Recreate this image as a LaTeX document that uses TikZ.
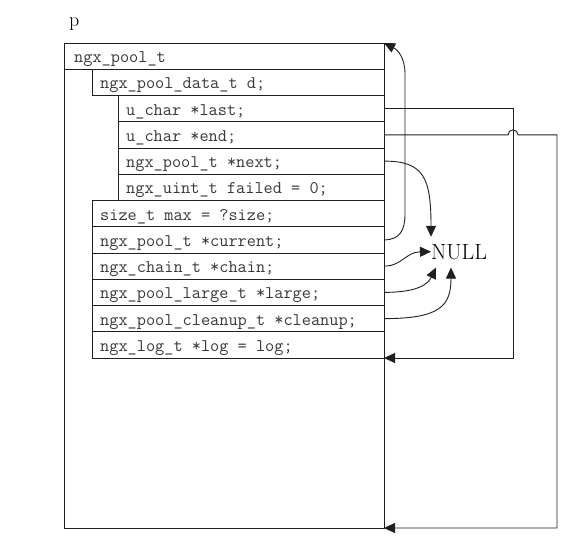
\documentclass[tikz,border=0pt]{standalone}
\usepackage{fontspec}
\usetikzlibrary{arrows.meta,calc}
\definecolor{ink}{rgb}{0.12,0.12,0.12}
\definecolor{txt}{rgb}{0.22,0.22,0.22}
\begin{document}
\begin{tikzpicture}[x=1pt,y=-1pt,
  rowbox/.style={draw=ink, line width=1pt, rectangle, inner sep=0pt, outer sep=0pt, anchor=north west, minimum height=26.25pt},
  code/.style={anchor=base west, inner sep=0pt, text=txt, font=\fontsize{17.8}{20}\ttfamily},
  conn/.style={draw=ink, line width=0.9pt},
  tip/.style={-{Triangle[length=11pt,width=10pt]}}]
\useasboundingbox[fill=white] (0,0) rectangle (581,541);
% outer pool block
\node[draw=ink, line width=1pt, anchor=north west, minimum width=320pt, minimum height=485pt, inner sep=0pt, outer sep=0pt] (pool) at (64,43) {};
\node[anchor=base west, inner sep=0pt, font=\fontsize{20}{22}\selectfont] (p) at (69,26) {p};
% rows
\node[rowbox, minimum width=320pt] (r1) at (64,43) {};
\node[code] (t1) at ($(r1.north west)+(10,19.5)$) {ngx\_pool\_t};
\node[rowbox, minimum width=292pt] (r2) at (92,69.25) {};
\node[code] (t2) at ($(r2.north west)+(8,19.5)$) {ngx\_pool\_data\_t d;};
\node[rowbox, minimum width=266pt] (r3) at (118,95.5) {};
\node[code] (t3) at ($(r3.north west)+(8,19.5)$) {u\_char *last;};
\node[rowbox, minimum width=266pt] (r4) at (118,121.75) {};
\node[code] (t4) at ($(r4.north west)+(8,19.5)$) {u\_char *end;};
\node[rowbox, minimum width=266pt] (r5) at (118,148) {};
\node[code] (t5) at ($(r5.north west)+(8,19.5)$) {ngx\_pool\_t *next;};
\node[rowbox, minimum width=266pt] (r6) at (118,174.25) {};
\node[code] (t6) at ($(r6.north west)+(8,19.5)$) {ngx\_uint\_t failed = 0;};
\node[rowbox, minimum width=292pt] (r7) at (92,200.5) {};
\node[code] (t7) at ($(r7.north west)+(8,19.5)$) {size\_t max = ?size;};
\node[rowbox, minimum width=292pt] (r8) at (92,226.75) {};
\node[code] (t8) at ($(r8.north west)+(8,19.5)$) {ngx\_pool\_t *current;};
\node[rowbox, minimum width=292pt] (r9) at (92,253) {};
\node[code] (t9) at ($(r9.north west)+(8,19.5)$) {ngx\_chain\_t *chain;};
\node[rowbox, minimum width=292pt] (r10) at (92,279.25) {};
\node[code] (t10) at ($(r10.north west)+(8,19.5)$) {ngx\_pool\_large\_t *large;};
\node[rowbox, minimum width=292pt] (r11) at (92,305.5) {};
\node[code] (t11) at ($(r11.north west)+(8,19.5)$) {ngx\_pool\_cleanup\_t *cleanup;};
\node[rowbox, minimum width=292pt] (r12) at (92,331.75) {};
\node[code] (t12) at ($(r12.north west)+(8,19.5)$) {ngx\_log\_t *log = log;};
% NULL
\node[anchor=base west, inner sep=0pt, font=\fontsize{22}{24}\selectfont] (null) at (431,259) {NULL};
% helper coordinates
\coordinate (lastturn) at (513,358);
\coordinate (hop) at (513,0);
\coordinate (endturn) at (557,528);
% last -> free area start
\draw[conn, tip] (r3.east) -| (lastturn) -- (r12.south east);
% end -> end of block (with hop)
\draw[conn, tip] (r4.east) -- ($(r4.east -| hop)+(-5,0)$) arc[start angle=180, end angle=0, radius=5pt] -| (endturn) -- (pool.south east);
% current -> pool itself
\draw[conn, tip] (r8.east) .. controls (400,239.9) and (405,230) .. (405,214) -- (405,74) .. controls (405,58) and (398,50) .. (pool.north east);
% next -> NULL
\draw[conn, tip] (r5.east) .. controls (424,161) and (431,178) .. ($(null.north west)+(0,-7)$);
% chain -> NULL
\draw[conn, tip] (r9.east) .. controls (402,266) and (406,252) .. (null.west);
% large -> NULL
\draw[conn, tip] (r10.east) .. controls (418,292.4) and (428,284) .. ($(null.south west)+(5,8)$);
% cleanup -> NULL
\draw[conn, tip] (r11.east) .. controls (440,318.6) and (451,306) .. ($(null.south west)+(20,8)$);
\end{tikzpicture}
\end{document}
